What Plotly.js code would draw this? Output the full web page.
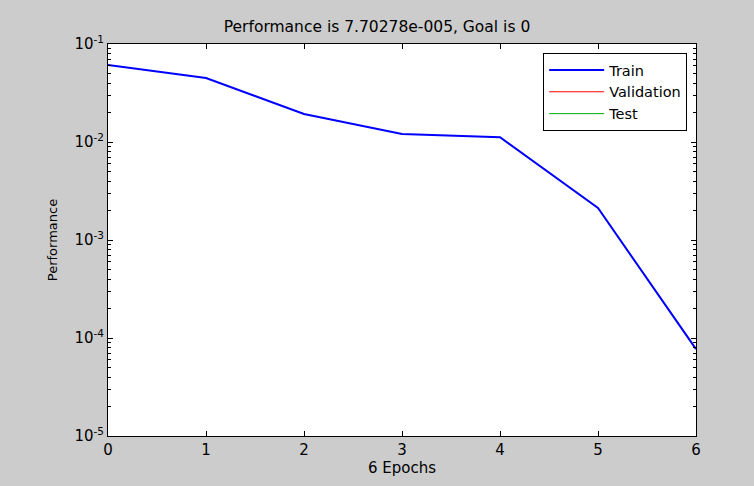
<!DOCTYPE html>
<html><head><meta charset="utf-8">
<script src="https://cdn.plot.ly/plotly-3.0.1.min.js"></script>
<style>html,body{margin:0;padding:0;background:#cccccc;}</style>
</head><body>
<div id="chart" style="width:754px;height:486px;"></div>
<script>
var epochs = [0, 1, 2, 3, 4, 5, 6];
var trainPerf = [0.061, 0.045, 0.0193, 0.0121, 0.0112, 0.00212, 7.70278e-5];
var validationPerf = [null];
var testPerf = [null];
var xTicks = [0, 1, 2, 3, 4, 5, 6];
var yTickVals = [1e-5, 1e-4, 1e-3, 1e-2, 1e-1];
var yTickText = ['10<sup>-5</sup>', '10<sup>-4</sup>', '10<sup>-3</sup>', '10<sup>-2</sup>', '10<sup>-1</sup>'];

var fam = 'DejaVu Sans, Arial, sans-serif';
var traces = [
  {x: epochs, y: trainPerf, name: 'Train', mode: 'lines', line: {color: '#0000ff', width: 2}},
  {x: validationPerf, y: validationPerf, name: 'Validation', mode: 'lines', line: {color: '#ff0000', width: 1}},
  {x: testPerf, y: testPerf, name: 'Test', mode: 'lines', line: {color: '#00aa00', width: 1}}
];
var layout = {
  width: 754, height: 486,
  paper_bgcolor: '#cccccc', plot_bgcolor: '#ffffff',
  margin: {l: 108, r: 58, t: 44, b: 50},
  font: {family: fam, size: 15, color: '#000'},
  title: {text: 'Performance is 7.70278e-005, Goal is 0', font: {family: fam, size: 15.5, color: '#000'}, x: 0.5, xanchor: 'center', y: 0.945, yanchor: 'middle'},
  showlegend: true,
  legend: {x: 0.985, xanchor: 'right', y: 0.977, yanchor: 'top', bgcolor: '#ffffff', bordercolor: '#000', borderwidth: 1, itemwidth: 55, font: {family: fam, size: 14.5, color: '#000'}, tracegroupgap: 0},
  xaxis: {
    range: [0, 6], tickvals: xTicks, ticktext: xTicks.map(String),
    ticks: 'inside', ticklen: 5, tickcolor: '#000', mirror: 'ticks',
    showline: true, linecolor: '#000', linewidth: 1, showgrid: false, zeroline: false,
    title: {text: '6 Epochs', font: {family: fam, size: 15, color: '#000'}, standoff: 4},
    tickfont: {family: fam, size: 15, color: '#000'}
  },
  yaxis: {
    type: 'log', range: [-5, -1], tickvals: yTickVals, ticktext: yTickText,
    ticks: 'inside', ticklen: 5, tickcolor: '#000', mirror: 'ticks',
    showline: true, linecolor: '#000', linewidth: 1, showgrid: false, zeroline: false,
    minor: {ticks: 'inside', ticklen: 3, tickcolor: '#000', dtick: 'D1', showgrid: false},
    title: {text: 'Performance', font: {family: fam, size: 13, color: '#000'}, standoff: 13},
    tickfont: {family: fam, size: 15, color: '#000'}
  }
};
Plotly.newPlot('chart', traces, layout, {displayModeBar: false, staticPlot: true});
</script>
</body></html>
